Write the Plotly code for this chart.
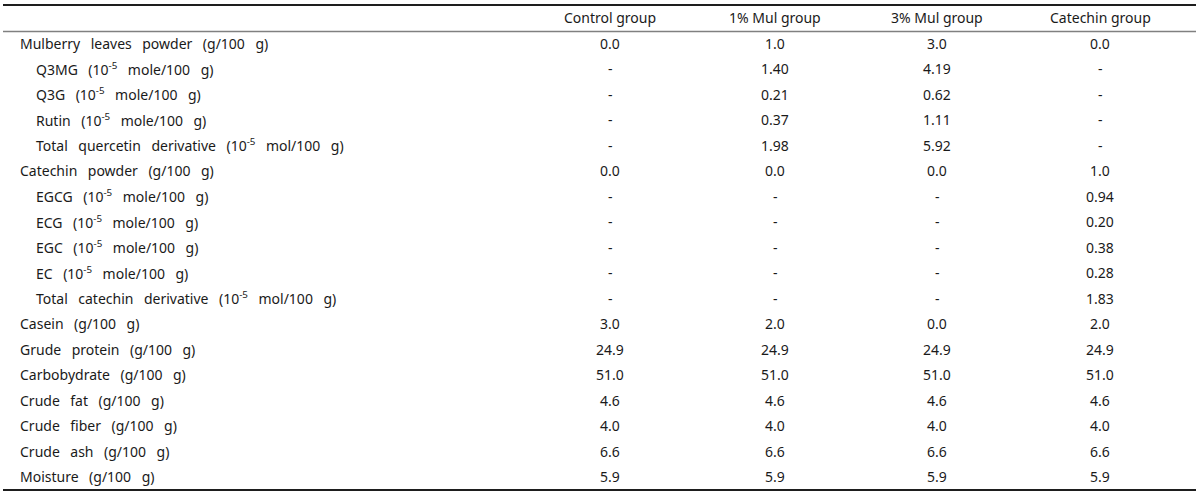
import plotly.graph_objects as go

# ---- data ----
groups = ["Control group", "1% Mul group", "3% Mul group", "Catechin group"]
row_labels = [
    "Mulberry leaves powder (g/100 g)",
    "Q3MG (10<sup>-5</sup> mole/100 g)",
    "Q3G (10<sup>-5</sup> mole/100 g)",
    "Rutin (10<sup>-5</sup> mole/100 g)",
    "Total quercetin derivative (10<sup>-5</sup> mol/100 g)",
    "Catechin powder (g/100 g)",
    "EGCG (10<sup>-5</sup> mole/100 g)",
    "ECG (10<sup>-5</sup> mole/100 g)",
    "EGC (10<sup>-5</sup> mole/100 g)",
    "EC (10<sup>-5</sup> mole/100 g)",
    "Total catechin derivative (10<sup>-5</sup> mol/100 g)",
    "Casein (g/100 g)",
    "Grude protein (g/100 g)",
    "Carbobydrate (g/100 g)",
    "Crude fat (g/100 g)",
    "Crude fiber (g/100 g)",
    "Crude ash (g/100 g)",
    "Moisture (g/100 g)",
]
is_sub_row = [0, 1, 1, 1, 1, 0, 1, 1, 1, 1, 1, 0, 0, 0, 0, 0, 0, 0]
control_group = ["0.0", "-", "-", "-", "-", "0.0", "-", "-", "-", "-", "-",
                 "3.0", "24.9", "51.0", "4.6", "4.0", "6.6", "5.9"]
mul1_group = ["1.0", "1.40", "0.21", "0.37", "1.98", "0.0", "-", "-", "-", "-", "-",
              "2.0", "24.9", "51.0", "4.6", "4.0", "6.6", "5.9"]
mul3_group = ["3.0", "4.19", "0.62", "1.11", "5.92", "0.0", "-", "-", "-", "-", "-",
              "0.0", "24.9", "51.0", "4.6", "4.0", "6.6", "5.9"]
catechin_group = ["0.0", "-", "-", "-", "-", "1.0", "0.94", "0.20", "0.38", "0.28", "1.83",
                  "2.0", "24.9", "51.0", "4.6", "4.0", "6.6", "5.9"]
columns = [control_group, mul1_group, mul3_group, catechin_group]

# ---- layout constants ----
W, H = 1200, 496
col_x = [610, 775, 937, 1100]
label_x = 18
sub_label_x = 34
FONT = dict(family="Noto Sans, Open Sans, sans-serif", size=14, color="#1a1a1a")
LABEL_SPACE = "\u2002\u2005"  # wide word spacing as in the reference typesetting


def spaced(s, sp):
    return s.replace(" ", sp)


annotations = []
for g, cx in zip(groups, col_x):
    annotations.append(dict(x=cx, y=-1, text=g, xanchor="center",
                            yanchor="middle", showarrow=False, font=FONT))
for i, lab in enumerate(row_labels):
    annotations.append(dict(x=sub_label_x if is_sub_row[i] else label_x, y=i,
                            text=spaced(lab, LABEL_SPACE),
                            xanchor="left", yanchor="middle", showarrow=False, font=FONT))
    for col, cx in zip(columns, col_x):
        annotations.append(dict(x=cx, y=i, text=col[i], xanchor="center", yanchor="middle",
                                showarrow=False, font=FONT))

row_h = 25.5
top_px = 43


def py(px):
    return (px - top_px) / row_h


shapes = [
    dict(type="line", x0=3, x1=1196, y0=py(5), y1=py(5), line=dict(color="#1e1e1e", width=2)),
    dict(type="line", x0=3, x1=1196, y0=py(31.5), y1=py(31.5), line=dict(color="#808080", width=1.5)),
    dict(type="line", x0=3, x1=1196, y0=py(490), y1=py(490), line=dict(color="#1e1e1e", width=2)),
]

fig = go.Figure()
fig.update_layout(
    width=W, height=H,
    margin=dict(l=0, r=0, t=0, b=0),
    paper_bgcolor="white", plot_bgcolor="white",
    xaxis=dict(range=[0, W], visible=False, fixedrange=True),
    yaxis=dict(range=[py(H), py(0)], visible=False, fixedrange=True),
    annotations=annotations,
    shapes=shapes,
    showlegend=False,
)

fig.write_html("out.html", config={"displayModeBar": False},
               post_script="document.body.style.margin='0px';document.body.style.overflow='hidden';")
